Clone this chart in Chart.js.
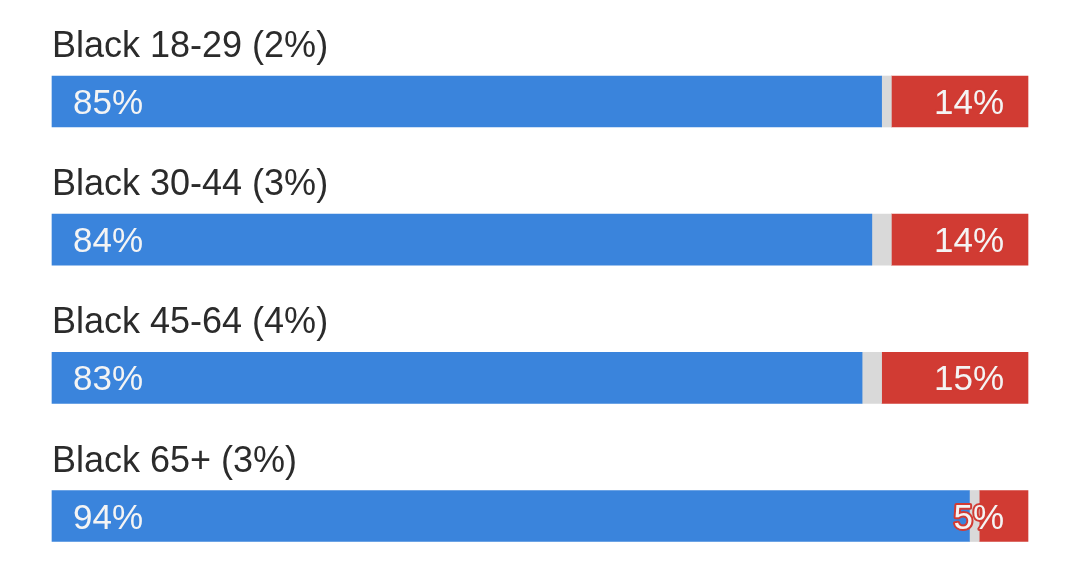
<!DOCTYPE html>
<html>
<head>
<meta charset="utf-8">
<script src="https://cdn.jsdelivr.net/npm/chart.js@4"></script>
<style>
  html, body { margin: 0; padding: 0; background: #fff; }
  #wrap { width: 1079px; height: 563px; }
</style>
</head>
<body>
<div id="wrap"><canvas id="chart" width="1079" height="563"></canvas></div>
<script>
// data
const groups = ['Black 18-29 (2%)', 'Black 30-44 (3%)', 'Black 45-64 (4%)', 'Black 65+ (3%)'];
const dem = [85, 84, 83, 94];
const other = [1, 2, 2, 1];
const rep = [14, 14, 15, 5];

const FONT = '"Liberation Sans", Arial, Helvetica, sans-serif';

// draws the group name above each bar and the percentages inside
const labelsPlugin = {
    id: 'barLabels',
    afterDatasetsDraw(chart) {
        const ctx = chart.ctx;
        const area = chart.chartArea;
        const demMeta = chart.getDatasetMeta(0);
        const repMeta = chart.getDatasetMeta(2);
        ctx.save();
        groups.forEach(function (name, i) {
            const d = demMeta.data[i];
            const r = repMeta.data[i];
            const half = d.height / 2;

            // group name
            ctx.font = '36px ' + FONT;
            ctx.fillStyle = '#2b2b2b';
            ctx.textAlign = 'left';
            ctx.textBaseline = 'alphabetic';
            ctx.fillText(name, area.left, d.y - half - 19);

            // percentages
            ctx.font = '35px ' + FONT;
            const base = d.y + 12.5;
            ctx.fillStyle = '#f4f4f4';
            ctx.textAlign = 'left';
            ctx.fillText(dem[i] + '%', d.base + 21, base);

            ctx.textAlign = 'right';
            ctx.lineWidth = 4;
            ctx.lineJoin = 'round';
            ctx.strokeStyle = '#d13b33';
            ctx.strokeText(rep[i] + '%', r.x - 24, base);
            ctx.fillStyle = '#f4f4f4';
            ctx.fillText(rep[i] + '%', r.x - 24, base);
        });
        ctx.restore();
    }
};

new Chart(document.getElementById('chart'), {
    type: 'bar',
    data: {
        labels: groups,
        datasets: [{
            label: 'Dem',
            data: dem,
            backgroundColor: '#3a84dc',
            barThickness: 51,
            clip: false
        }, {
            label: 'Other',
            data: other,
            backgroundColor: '#d9d9d9',
            barThickness: 51,
            clip: false
        }, {
            label: 'Rep',
            data: rep,
            backgroundColor: '#d13b33',
            barThickness: 51,
            clip: false
        }]
    },
    options: {
        indexAxis: 'y',
        responsive: false,
        animation: false,
        devicePixelRatio: 1,
        layout: {
            padding: { left: 52, right: 51, top: 101.5, bottom: 47 }
        },
        scales: {
            x: { stacked: true, min: 0, max: 100, display: false },
            y: { stacked: true, display: false, offset: false }
        },
        plugins: {
            legend: { display: false },
            tooltip: { enabled: false }
        }
    },
    plugins: [labelsPlugin]
});
</script>
</body>
</html>
